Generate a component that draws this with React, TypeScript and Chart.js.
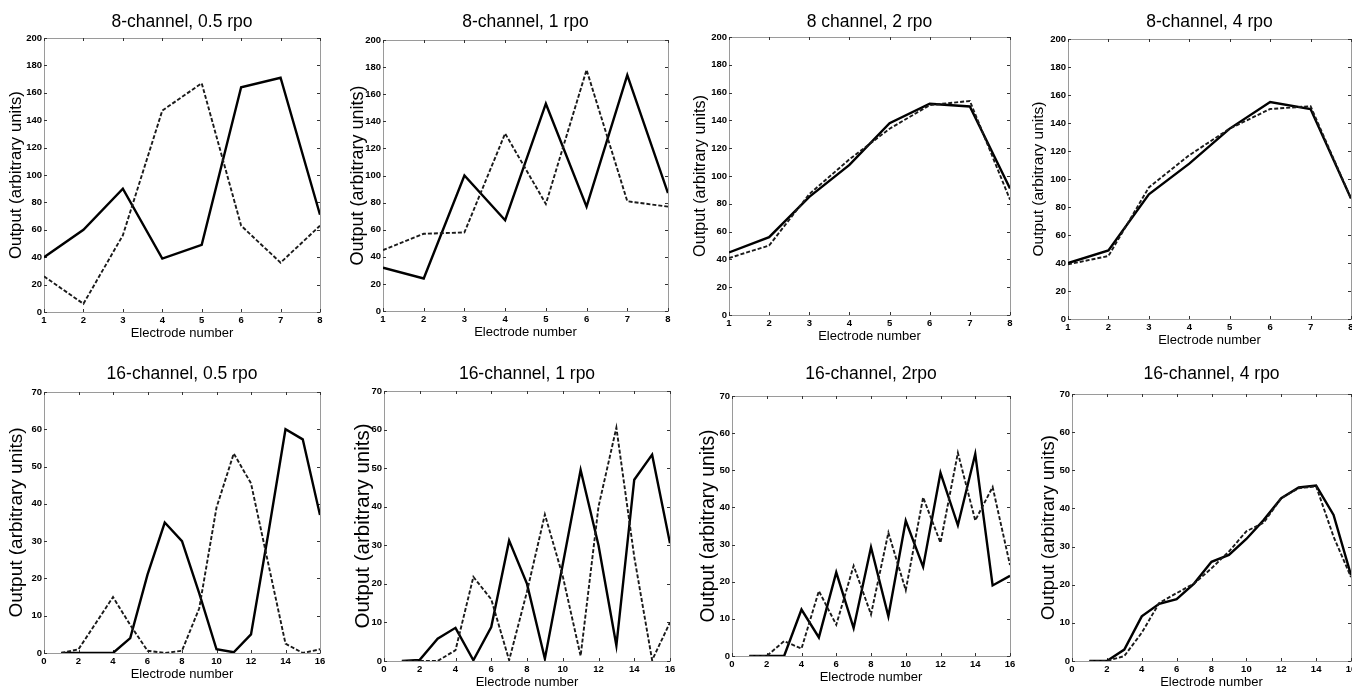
import React, { useEffect, useRef } from 'react';
import { Chart, registerables } from 'chart.js';

Chart.register(...registerables);

// ---------- data ----------
const electrodes8 = [1, 2, 3, 4, 5, 6, 7, 8];
const electrodes16 = [1, 2, 3, 4, 5, 6, 7, 8, 9, 10, 11, 12, 13, 14, 15, 16];

const titles = [
  '8-channel, 0.5 rpo',
  '8-channel, 1 rpo',
  '8 channel, 2 rpo',
  '8-channel, 4 rpo',
  '16-channel, 0.5 rpo',
  '16-channel, 1 rpo',
  '16-channel, 2rpo',
  '16-channel, 4 rpo',
];

const xAxisLabel = 'Electrode number';
const yAxisLabel = 'Output (arbitrary units)';

const p1Solid = [40, 60, 90, 39, 49, 164, 171, 71];
const p1Dashed = [26, 6, 56, 147, 167, 63, 36, 63];
const p2Solid = [32, 24, 100, 67, 153, 77, 174, 87];
const p2Dashed = [45, 57, 58, 131, 79, 178, 81, 77];
const p3Solid = [45, 56, 85, 108, 138, 152, 150, 91];
const p3Dashed = [41, 50, 87, 112, 134, 151, 154, 83];
const p4Solid = [40, 49, 89, 111, 136, 155, 150, 86];
const p4Dashed = [39, 45, 94, 117, 136, 150, 152, 86];

const p5Solid = [0, 0, 0, 0, 4, 21, 35, 30, 16, 1, 0.2, 5, 32, 60, 57.3, 37];
const p5Dashed = [0, 1, 8, 15, 7.5, 0.6, 0, 0.6, 12, 39, 53.5, 45.5, 24, 2.5, 0, 1];
const p6Solid = [0, 0.3, 5.8, 8.6, 0.2, 8.8, 31.2, 20, 0.6, 25, 49.5, 30, 4, 47, 53.5, 30.5];
const p6Dashed = [0, 0, 0, 2.8, 21.8, 16, 0.2, 18, 38, 22, 1.3, 40, 60.5, 27, 0.2, 10];
const p7Solid = [0, 0, 0, 12.5, 5, 22.5, 7.5, 29.3, 10.7, 36.4, 24, 49.3, 35.2, 54.4, 19, 21.6];
const p7Dashed = [0, 0, 4, 2, 17.5, 8.4, 24.3, 11.2, 33.2, 17.7, 42.7, 30.5, 54.7, 36.5, 45.5, 24.5];
const p8Solid = [0, 0, 3, 11.7, 15, 16.2, 20.3, 26, 27.8, 32, 37, 42.7, 45.5, 46, 38.3, 22.5];
const p8Dashed = [0, 0, 1.3, 7.4, 15.2, 17.8, 20.3, 24.3, 28.7, 34, 36.3, 42.7, 45.3, 45.8, 32.6, 22];

const topXRange = { min: 1, max: 8, step: 1 };
const bottomXRange = { min: 0, max: 16, step: 2 };
const topYRange = { min: 0, max: 200, step: 20 };
const bottomYRange = { min: 0, max: 70, step: 10 };

const panelSeries = [
  { x: electrodes8, solid: p1Solid, dashed: p1Dashed },
  { x: electrodes8, solid: p2Solid, dashed: p2Dashed },
  { x: electrodes8, solid: p3Solid, dashed: p3Dashed },
  { x: electrodes8, solid: p4Solid, dashed: p4Dashed },
  { x: electrodes16, solid: p5Solid, dashed: p5Dashed },
  { x: electrodes16, solid: p6Solid, dashed: p6Dashed },
  { x: electrodes16, solid: p7Solid, dashed: p7Dashed },
  { x: electrodes16, solid: p8Solid, dashed: p8Dashed },
];

// ---------- layout (page pixel rects of the plot areas) ----------
const plotRects = [
  { L: 44, T: 38, R: 320, B: 312 },
  { L: 383, T: 40, R: 668, B: 311 },
  { L: 729, T: 37, R: 1010, B: 315 },
  { L: 1068, T: 39, R: 1351, B: 319 },
  { L: 44, T: 392, R: 320, B: 653 },
  { L: 384, T: 391, R: 670, B: 661 },
  { L: 732, T: 396, R: 1010, B: 656 },
  { L: 1072, T: 394, R: 1351, B: 661 },
];
const titleCenterY = [22, 22, 22, 22, 374, 374, 374, 374];
const yLabelOffset = [28, 25, 28, 29, 27, 21, 23, 23];
const yLabelSize = [16.8, 18, 16.2, 15.5, 19, 20.5, 19.3, 18.5];

const Y_AXIS_W = 50;
const X_AXIS_H = 32;
const TOP_SPACE = 45;
const PAD_R = 15;

function narrowAvailable(): boolean {
  try {
    const c = document.createElement('canvas').getContext('2d');
    if (!c) return false;
    c.font = '40px monospace';
    const a = c.measureText('Electrode number').width;
    c.font = "40px 'Liberation Sans Narrow', monospace";
    const b = c.measureText('Electrode number').width;
    return Math.abs(a - b) > 1;
  } catch (e) {
    return false;
  }
}

const framePlugin = {
  id: 'matlabFrame',
  beforeDatasetsDraw(chart: any) {
    const { ctx, chartArea: a, scales } = chart;
    ctx.save();
    ctx.strokeStyle = '#9a9a9a';
    ctx.lineWidth = 1;
    ctx.strokeRect(Math.round(a.left) + 0.5, Math.round(a.top) + 0.5, Math.round(a.right - a.left), Math.round(a.bottom - a.top));
    ctx.strokeStyle = '#333';
    ctx.lineWidth = 1;
    const tl = 3;
    ctx.beginPath();
    scales.x.ticks.forEach((t: any) => {
      const px = Math.round(scales.x.getPixelForValue(t.value)) + 0.5;
      ctx.moveTo(px, a.top);
      ctx.lineTo(px, a.top + tl);
      ctx.moveTo(px, a.bottom);
      ctx.lineTo(px, a.bottom - tl);
    });
    scales.y.ticks.forEach((t: any) => {
      const py = Math.round(scales.y.getPixelForValue(t.value)) + 0.5;
      ctx.moveTo(a.left, py);
      ctx.lineTo(a.left + tl, py);
      ctx.moveTo(a.right, py);
      ctx.lineTo(a.right - tl, py);
    });
    ctx.stroke();
    ctx.restore();
  },
};

function Panel({ idx }: { idx: number }) {
  const ref = useRef<HTMLCanvasElement>(null);
  const r = plotRects[idx];
  const w = r.R - r.L + Y_AXIS_W + PAD_R;
  const h = r.B - r.T + TOP_SPACE + X_AXIS_H;
  const left = r.L - Y_AXIS_W;
  const top = r.T - TOP_SPACE;

  useEffect(() => {
    const canvas = ref.current;
    if (!canvas) return;
    const narrow = narrowAvailable();
    const regular = "'Liberation Sans', Arial, Helvetica, sans-serif";
    const narrowFam = "'Liberation Sans Narrow', 'Liberation Sans', Arial, sans-serif";
    const tickFont = narrow
      ? { family: narrowFam, size: 11.5, weight: 'bold' as const }
      : { family: regular, size: 9.5, weight: 'bold' as const };
    const xLabSize = narrow ? 16 : 13;
    const xLabFont = { family: narrow ? narrowFam : regular, size: xLabSize, lineHeight: 1.2 };
    const xLabPadBottom = 11 - (xLabSize * 1.2) / 2;

    const titleSize = 17.5;
    const titleLh = titleSize * 1.2;
    const tcC = titleCenterY[idx] - top;
    const tPadTop = tcC - titleLh / 2;
    const tPadBottom = TOP_SPACE - tPadTop - titleLh;

    const ySize = yLabelSize[idx];
    const yCenter = Y_AXIS_W - yLabelOffset[idx];
    const yPadTop = yCenter - (ySize * 1.2) / 2;

    const isTop = idx < 4;
    const xr = isTop ? topXRange : bottomXRange;
    const yr = isTop ? topYRange : bottomYRange;
    const s = panelSeries[idx];

    const chart = new Chart(canvas, {
      type: 'line',
      data: {
        datasets: [
          {
            data: s.x.map((xv, i) => ({ x: xv, y: s.dashed[i] })),
            borderColor: '#1a1a1a',
            borderWidth: 1.9,
            borderDash: [4, 2],
            pointRadius: 0,
            tension: 0,
            fill: false,
          },
          {
            data: s.x.map((xv, i) => ({ x: xv, y: s.solid[i] })),
            borderColor: '#000',
            borderWidth: 2.4,
            pointRadius: 0,
            tension: 0,
            fill: false,
          },
        ],
      },
      options: {
        animation: false,
        responsive: false,
        devicePixelRatio: 1,
        layout: { padding: { left: 0, right: PAD_R, top: 0, bottom: 0 } },
        plugins: {
          legend: { display: false },
          tooltip: { enabled: false },
          title: {
            display: true,
            text: titles[idx],
            fullSize: false,
            color: '#000',
            font: { family: regular, size: titleSize, weight: 'normal', lineHeight: 1.2 },
            padding: { top: tPadTop, bottom: tPadBottom },
          },
        },
        scales: {
          x: {
            type: 'linear',
            min: xr.min,
            max: xr.max,
            ticks: {
              stepSize: xr.step,
              autoSkip: false,
              maxRotation: 0,
              padding: 3,
              color: '#000',
              font: tickFont,
            },
            grid: { display: false, drawTicks: false },
            border: { display: false },
            title: {
              display: true,
              text: xAxisLabel,
              color: '#000',
              font: xLabFont,
              padding: { top: 0, bottom: xLabPadBottom },
            },
            afterFit: (sc: any) => {
              sc.height = X_AXIS_H;
              sc.paddingLeft = 0;
              sc.paddingRight = 0;
            },
          },
          y: {
            type: 'linear',
            min: yr.min,
            max: yr.max,
            ticks: {
              stepSize: yr.step,
              autoSkip: false,
              padding: 2,
              color: '#000',
              font: tickFont,
            },
            grid: { display: false, drawTicks: false },
            border: { display: false },
            title: {
              display: true,
              text: yAxisLabel,
              color: '#000',
              font: { family: regular, size: ySize, lineHeight: 1.2 },
              padding: { top: yPadTop, bottom: 0 },
            },
            afterFit: (sc: any) => {
              sc.width = Y_AXIS_W;
              sc.paddingTop = 0;
              sc.paddingBottom = 0;
            },
          },
        },
      },
      plugins: [framePlugin],
    } as any);
    return () => chart.destroy();
  }, [idx]);

  return (
    <canvas
      ref={ref}
      width={w}
      height={h}
      style={{ position: 'absolute', left: left + 'px', top: top + 'px', width: w + 'px', height: h + 'px' }}
    />
  );
}

export default function App() {
  return (
    <div
      style={{
        position: 'absolute',
        left: 0,
        top: 0,
        width: '1352px',
        height: '691px',
        overflow: 'hidden',
        background: '#fff',
      }}
    >
      {titles.map((_, i) => (
        <Panel key={i} idx={i} />
      ))}
    </div>
  );
}
